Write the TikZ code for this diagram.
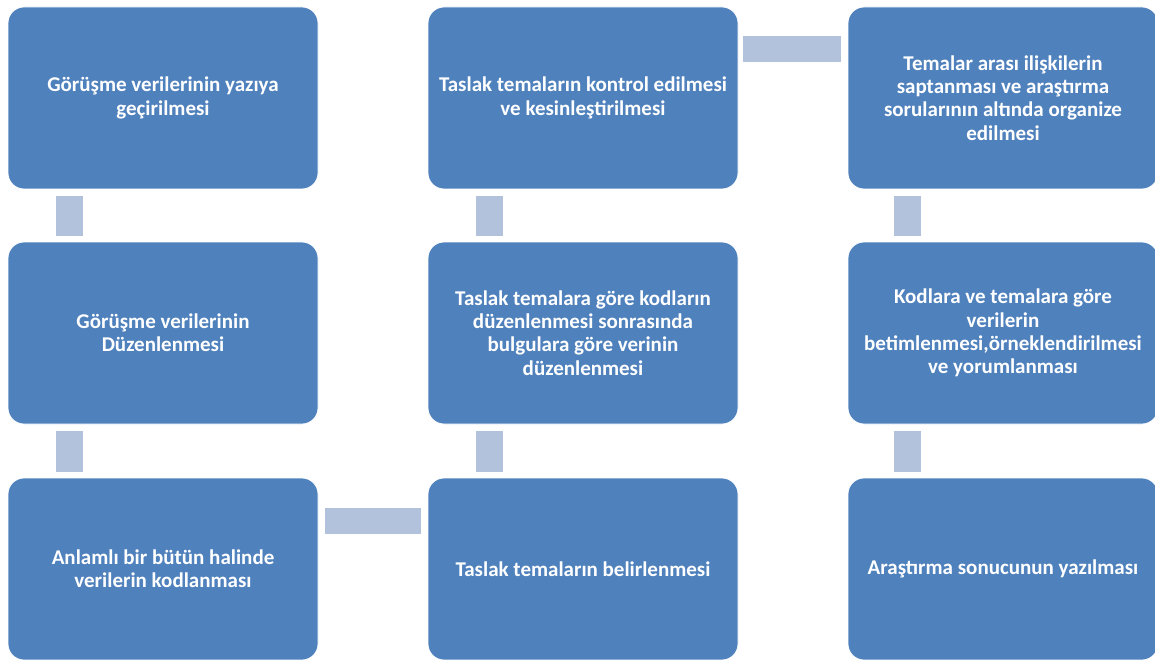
\documentclass[tikz,border=0pt]{standalone}
\usepackage{fontspec}
\setmainfont{Carlito}
\usetikzlibrary{calc}
\definecolor{boxblue}{HTML}{4F81BD}
\definecolor{connblue}{HTML}{B3C2DC}
\tikzset{
  stage/.style={rectangle, rounded corners=16pt, fill=boxblue, draw=white, line width=0.8pt,
    minimum width=310pt, minimum height=182pt, inner sep=0pt, align=center,
    text=white, font=\fontsize{21}{23.3}\selectfont\bfseries},
  conn/.style={fill=connblue, draw=white, line width=0.6pt}
}
\begin{document}
\begin{tikzpicture}[x=1pt,y=-1pt]
\useasboundingbox (0,0) rectangle (1155,660);
\node[stage] (b1) at (163,98) {Görüşme verilerinin yazıya\\geçirilmesi};
\node[stage] (b2) at (163,333) {Görüşme verilerinin\\Düzenlenmesi};
\node[stage] (b3) at (163,569) {Anlamlı bir bütün halinde\\verilerin kodlanması};
\node[stage] (b6) at (583,98) {Taslak temaların kontrol edilmesi\\ve kesinleştirilmesi};
\node[stage] (b5) at (583,333) {Taslak temalara göre kodların\\düzenlenmesi sonrasında\\bulgulara göre verinin\\düzenlenmesi};
\node[stage] (b4) at (583,569) {Taslak temaların belirlenmesi};
\node[stage] (b7) at (1003,98) {Temalar arası ilişkilerin\\saptanması ve araştırma\\sorularının altında organize\\edilmesi};
\node[stage] (b8) at (1003,333) {Kodlara ve temalara göre\\verilerin\\betimlenmesi,örneklendirilmesi\\ve yorumlanması};
\node[stage] (b9) at (1003,569) {Araştırma sonucunun yazılması};
% vertical connectors
\draw[conn] ($(b1.south west)+(48,6)$) rectangle ($(b2.north west)+(76,-5)$);
\draw[conn] ($(b2.south west)+(48,6)$) rectangle ($(b3.north west)+(76,-5)$);
\draw[conn] ($(b4.north west)+(48,-5)$) rectangle ($(b5.south west)+(76,6)$);
\draw[conn] ($(b5.north west)+(48,-5)$) rectangle ($(b6.south west)+(76,6)$);
\draw[conn] ($(b7.south west)+(46,6)$) rectangle ($(b8.north west)+(74,-5)$);
\draw[conn] ($(b8.south west)+(46,6)$) rectangle ($(b9.north west)+(74,-5)$);
% horizontal connectors
\draw[conn] ($(b3.north east)+(6,30)$) rectangle ($(b4.north west)+(-6,57)$);
\draw[conn] ($(b6.north east)+(4,29)$) rectangle ($(b7.north west)+(-6,56)$);
\end{tikzpicture}
\end{document}
